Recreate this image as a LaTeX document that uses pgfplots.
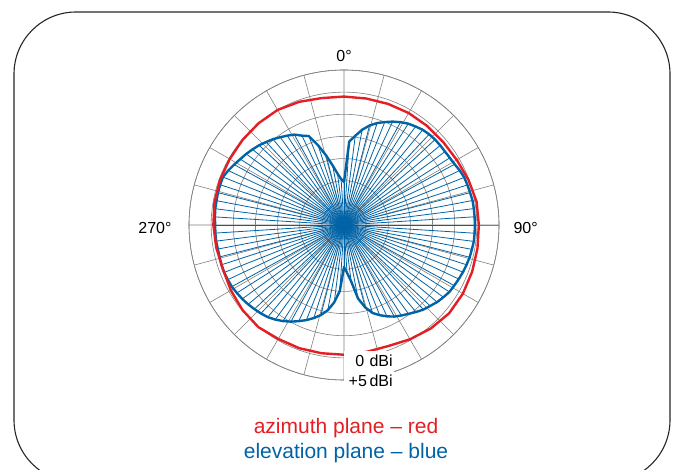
\documentclass[border=0pt]{standalone}
\usepackage{pgfplots}
\pgfplotsset{compat=1.18}
\usepackage{pgfplotstable}
\usepgfplotslibrary{polar}
\usepackage{fontspec}
\setmainfont{Liberation Sans}
\definecolor{rred}{RGB}{227,30,36}
\definecolor{bblue}{RGB}{0,99,166}
\definecolor{ggrid}{RGB}{128,128,128}

\pgfplotstableread{
a d
0 -20.3
3.6 -11.1
7.2 -9.7
10.8 -8.1
14.4 -6.8
18 -5.8
21.6 -5.0
25.2 -4.2
28.8 -3.5
32.4 -2.9
36 -2.5
39.6 -2.1
43.2 -1.9
46.8 -1.8
50.4 -1.8
54 -1.8
57.6 -1.7
61.2 -1.5
64.8 -1.1
68.4 -0.8
72 -0.7
75.6 -0.6
79.2 -0.45
82.8 -0.45
86.4 -0.45
90 -0.45
93.6 -0.45
97.2 -0.45
100.8 -0.6
104.4 -0.7
108 -0.9
111.6 -1.1
115.2 -1.35
118.8 -1.6
122.4 -1.8
126 -2.25
129.6 -2.7
133.2 -3.3
136.8 -3.8
140.4 -4.5
144 -5.2
147.6 -5.8
151.2 -6.4
154.8 -7.2
158.4 -8.1
162 -9.1
165.6 -10.8
169.2 -13.1
172.8 -17.2
176.4 -19.2
180 -20.5
183.6 -15.1
187.2 -12.4
190.8 -10.4
194.4 -9.0
198 -7.9
201.6 -6.9
205.2 -6.0
208.8 -5.1
212.4 -4.3
216 -3.6
219.6 -3.0
223.2 -2.6
226.8 -2.25
230.4 -1.9
234 -1.6
237.6 -1.35
241.2 -1.1
244.8 -1.0
248.4 -0.9
252 -0.9
255.6 -1.0
259.2 -1.0
262.8 -0.9
266.4 -0.9
270 -0.9
273.6 -0.8
277.2 -0.7
280.8 -0.7
284.4 -0.6
288 -0.6
291.6 -0.6
295.2 -1.1
298.8 -1.7
302.4 -2.25
306 -2.7
309.6 -3.2
313.2 -3.7
316.8 -4.3
320.4 -4.85
324 -5.5
327.6 -6.1
331.2 -6.7
334.8 -7.7
338.4 -8.4
342 -11.1
345.6 -13.8
349.2 -16.3
352.8 -18.3
356.4 -19.6
}\elev

\pgfplotstableread{
a d
0 -1.0
10 -1.0
20 -0.9
30 -0.8
40 -0.8
50 -0.8
60 -0.6
70 -0.1
80 0.4
90 0.45
100 0.6
110 0.8
120 1.0
130 1.0
140 0.5
150 -0.2
160 -0.9
170 -0.9
180 -0.7
190 -0.6
200 -0.4
210 -0.3
220 0.1
230 -0.1
240 -0.5
250 -0.9
260 -0.7
270 -0.5
280 -0.3
290 -0.2
300 -0.2
310 -0.1
320 0.0
330 0.0
340 -0.4
350 -0.9
}\azim

\pgfplotstablegetrowsof{\elev}
\pgfmathtruncatemacro{\lastrow}{\pgfplotsretval-1}

\begin{document}
\begin{tikzpicture}
\useasboundingbox (0,0) rectangle (683bp,470bp);
\clip (0,0) rectangle (683bp,470bp);
\draw[line width=1.1bp, black!85, rounded corners=62bp] (14bp,-12bp) rectangle (670bp,458bp);
\begin{polaraxis}[
  at={(344bp,245bp)}, anchor=center,
  width=310bp, height=310bp, scale only axis,
  xmin=0, xmax=360, ymin=0, ymax=35,
  xtick={0,15,...,345}, ytick={5,10,...,35},
  xticklabels={}, yticklabels={},
  grid=major,
  major grid style={ggrid, line width=0.6bp},
  axis line style={ggrid, line width=0.6bp},
  major tick length=0pt,
  x filter/.expression={x<=90 ? 90-x : 450-x},
  y filter/.expression={y+30},
  clip=false,
]
\pgfplotsforeachungrouped \i in {0,...,\lastrow}{%
  \pgfplotstablegetelem{\i}{a}\of\elev \let\ta\pgfplotsretval
  \pgfplotstablegetelem{\i}{d}\of\elev \let\td\pgfplotsretval
  \edef\doplot{\noexpand\addplot[bblue, line width=0.8bp, no marks] coordinates {(\ta,-30) (\ta,\td)};}%
  \doplot
}
\addplot[bblue, line width=2.4bp, no marks, line join=round] table[x=a,y=d] {\elev} -- cycle;
\addplot[rred, line width=2.4bp, no marks, line join=round] table[x=a,y=d] {\azim} -- cycle;
\end{polaraxis}
\fontsize{16bp}{19bp}\selectfont
\node[anchor=base] at (344bp,408.3bp) {0°};
\node[anchor=base west, inner sep=0pt] at (513.3bp,236bp) {90°};
\node[anchor=base east, inner sep=0pt] at (171.7bp,236bp) {270°};
\node[anchor=base west, fill=white, inner xsep=1bp, inner ysep=4bp, text width=48bp, align=right] at (343.5bp,103.3bp) {0 dBi};
\node[anchor=base west, fill=white, inner xsep=1bp, inner ysep=4bp, text width=48bp, align=right] at (343.5bp,83.3bp) {+5\,dBi};
\fontsize{21bp}{25bp}\selectfont
\node[anchor=base, text=rred, inner sep=0pt] at (346bp,36.7bp) {azimuth plane -- red};
\node[anchor=base, text=bblue, inner sep=0pt] at (346bp,11.7bp) {elevation plane -- blue};
\end{tikzpicture}
\end{document}
